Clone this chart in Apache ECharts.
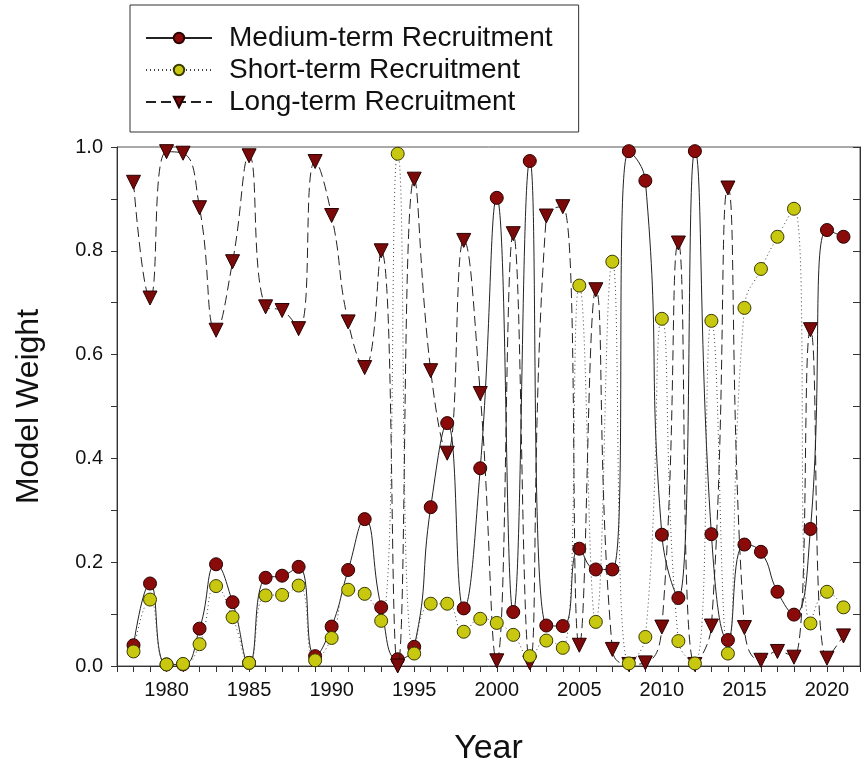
<!DOCTYPE html>
<html>
<head>
<meta charset="utf-8">
<script src="https://cdn.jsdelivr.net/npm/echarts@6/dist/echarts.min.js"></script>
<style>
  html, body { margin: 0; padding: 0; background: #fff; }
  #chart { width: 863px; height: 771px; }
</style>
</head>
<body>
<div id="chart"></div>
<script>
// years 1978..2021
const years = [1978, 1979, 1980, 1981, 1982, 1983, 1984, 1985, 1986, 1987, 1988,
  1989, 1990, 1991, 1992, 1993, 1994, 1995, 1996, 1997, 1998, 1999, 2000, 2001,
  2002, 2003, 2004, 2005, 2006, 2007, 2008, 2009, 2010, 2011, 2012, 2013, 2014,
  2015, 2016, 2017, 2018, 2019, 2020, 2021];

const mediumTerm = [0.040, 0.159, 0.003, 0.003, 0.072, 0.196, 0.123, 0.006, 0.170,
  0.174, 0.191, 0.019, 0.076, 0.185, 0.283, 0.113, 0.013, 0.037, 0.306, 0.468,
  0.111, 0.381, 0.902, 0.104, 0.973, 0.078, 0.077, 0.226, 0.186, 0.186, 0.992,
  0.935, 0.253, 0.131, 0.992, 0.254, 0.050, 0.234, 0.220, 0.143, 0.099, 0.264,
  0.840, 0.827];

const shortTerm = [0.028, 0.128, 0.003, 0.004, 0.042, 0.154, 0.094, 0.006, 0.136,
  0.137, 0.155, 0.011, 0.054, 0.147, 0.139, 0.087, 0.987, 0.024, 0.120, 0.120,
  0.066, 0.091, 0.083, 0.060, 0.019, 0.049, 0.035, 0.733, 0.085, 0.779, 0.005,
  0.056, 0.669, 0.048, 0.005, 0.665, 0.024, 0.690, 0.765, 0.827, 0.881, 0.082,
  0.143, 0.113];

const longTerm = [0.932, 0.709, 0.991, 0.988, 0.883, 0.647, 0.779, 0.983, 0.692,
  0.685, 0.650, 0.972, 0.868, 0.663, 0.575, 0.800, 0.000, 0.938, 0.569, 0.410,
  0.820, 0.525, 0.010, 0.833, 0.006, 0.867, 0.885, 0.040, 0.725, 0.032, 0.003,
  0.006, 0.075, 0.815, 0.003, 0.077, 0.921, 0.074, 0.011, 0.028, 0.017, 0.648,
  0.015, 0.058];

const seriesNames = ['Medium-term Recruitment', 'Short-term Recruitment', 'Long-term Recruitment'];

const pairs = arr => years.map((y, i) => [y, arr[i]]);
const font = 'Liberation Sans, Arial, sans-serif';

const chart = echarts.init(document.getElementById('chart'));
chart.setOption({
  backgroundColor: '#fff',
  animation: false,
  grid: {
    left: 117, top: 147, right: -3, bottom: 103,
    show: true, borderColor: '#555', borderWidth: 1
  },
  legend: {
    data: seriesNames,
    orient: 'vertical',
    left: 130, top: 5,
    padding: [19, 26, 16, 15],
    itemGap: 4,
    itemWidth: 66, itemHeight: 13,
    borderColor: '#333', borderWidth: 1,
    textStyle: { fontFamily: font, fontSize: 28, color: '#111', padding: [0, 0, 0, 12] }
  },
  xAxis: [{
    type: 'value',
    min: 1977, max: 2022, interval: 1,
    name: 'Year', nameLocation: 'middle', nameGap: 66,
    nameTextStyle: { fontFamily: font, fontSize: 34, color: '#111' },
    axisLine: { lineStyle: { color: '#333' } },
    axisTick: { inside: false, length: 6, lineStyle: { color: '#333' } },
    axisLabel: {
      fontFamily: font, fontSize: 20, color: '#111', margin: 14,
      formatter: v => (v % 5 === 0 ? String(v) : '')
    },
    splitLine: { show: false }
  }],
  yAxis: [{
    type: 'value',
    min: 0, max: 1, interval: 0.1,
    name: 'Model Weight', nameLocation: 'middle', nameGap: 72,
    nameTextStyle: { fontFamily: font, fontSize: 32, color: '#111' },
    axisLine: { show: true, lineStyle: { color: '#333' } },
    axisTick: { show: true, length: 6, lineStyle: { color: '#333' } },
    axisLabel: {
      fontFamily: font, fontSize: 20, color: '#111', margin: 14,
      formatter: v => (Math.round(v * 10) % 2 === 0 ? v.toFixed(1) : '')
    },
    splitLine: { show: false }
  }, {
    type: 'value', position: 'right',
    min: 0, max: 1, interval: 0.1,
    axisLine: { show: true, lineStyle: { color: '#333' } },
    axisTick: { show: true, inside: true, length: 7, lineStyle: { color: '#333' } },
    axisLabel: { show: false },
    splitLine: { show: false }
  }],
  series: [{
    name: seriesNames[0],
    type: 'line', smooth: 0.5, z: 2,
    data: pairs(mediumTerm),
    symbol: 'circle', symbolSize: 13,
    lineStyle: { color: '#222', width: 1, type: 'solid' },
    itemStyle: { color: '#8b0a0a', borderColor: '#2a0000', borderWidth: 1 }
  }, {
    name: seriesNames[2],
    type: 'line', smooth: 0.5, z: 3,
    data: pairs(longTerm),
    symbol: 'triangle', symbolRotate: 180, symbolSize: 14,
    lineStyle: { color: '#222', width: 1, type: [10, 5] },
    itemStyle: { color: '#7a0a0a', borderColor: '#2a0000', borderWidth: 1 }
  }, {
    name: seriesNames[1],
    type: 'line', smooth: 0.5, z: 4,
    data: pairs(shortTerm),
    symbol: 'circle', symbolSize: 13,
    lineStyle: { color: '#444', width: 1, type: [1, 3] },
    itemStyle: { color: '#c8c810', borderColor: '#3a3a00', borderWidth: 1 }
  }]
});
</script>
</body>
</html>
